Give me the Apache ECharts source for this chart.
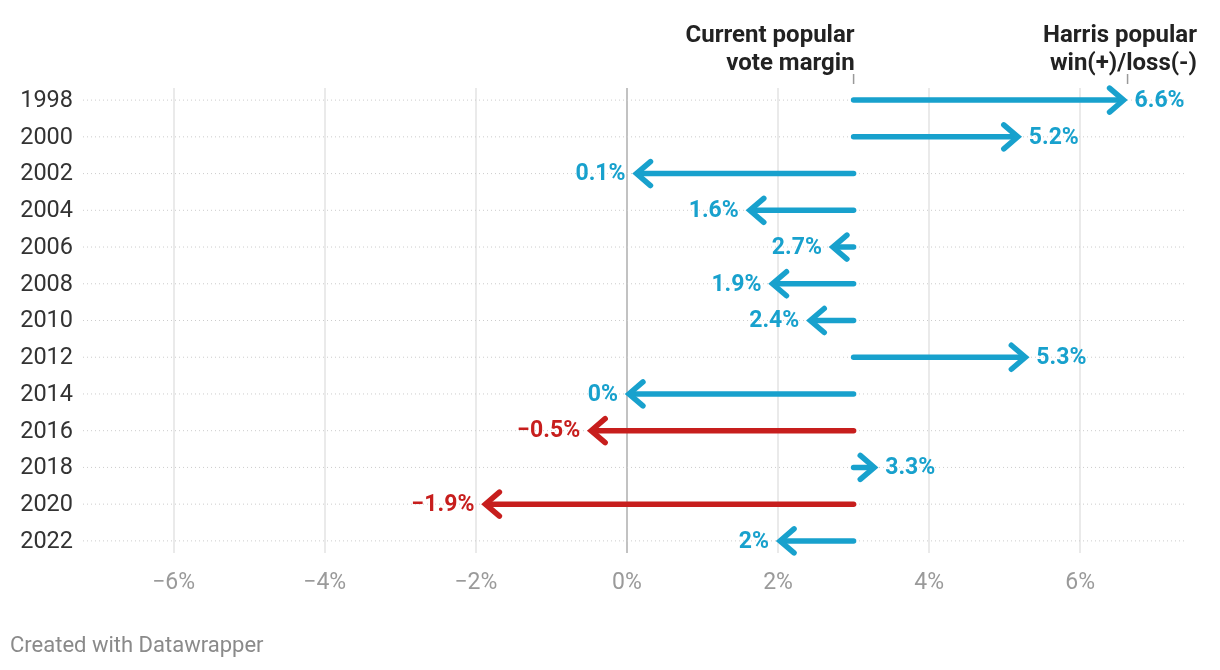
<!DOCTYPE html>
<html>
<head>
<meta charset="utf-8">
<script src="https://cdn.jsdelivr.net/npm/echarts@6/dist/echarts.min.js"></script>
<style>
  html, body { margin: 0; padding: 0; background: #fff; }
  #chart { width: 1220px; height: 670px; }
</style>
</head>
<body>
<div id="chart"></div>
<script>
// data
const years = ['1998', '2000', '2002', '2004', '2006', '2008', '2010', '2012', '2014', '2016', '2018', '2020', '2022']
const harrisMargins = [6.6, 5.2, 0.1, 1.6, 2.7, 1.9, 2.4, 5.3, 0, -0.5, 3.3, -1.9, 2]
const currentMargin = 3.0

const BLUE = '#18a1cd'
const RED = '#c71e1d'
const FONT = 'Roboto, "Noto Sans", sans-serif'

const fmtPct = v => (v < 0 ? '\u2212' : '') + Math.abs(v) + '%'

const chart = echarts.init(document.getElementById('chart'))

const renderArrow = (params, api) => {
  const i = api.value(0)
  const end = api.value(1)
  const start = api.coord([currentMargin, i])
  const tip = api.coord([end, i])
  const cs = params.coordSys
  const y = start[1]
  const color = end < 0 ? RED : BLUE
  const dir = tip[0] >= start[0] ? 1 : -1
  const tx = tip[0] - dir * 2

  return {
    type: 'group',
    children: [
      {
        type: 'line',
        shape: { x1: cs.x, y1: y, x2: cs.x + cs.width, y2: y },
        style: { stroke: '#cccccc', lineWidth: 1, lineDash: [1, 3] },
        z2: 0
      },
      {
        type: 'text',
        style: {
          text: years[i], x: cs.x - 10, y: y + 1,
          align: 'right', verticalAlign: 'middle',
          font: '23.5px ' + FONT, fill: '#333333'
        }
      },
      {
        type: 'line',
        shape: { x1: start[0], y1: y, x2: tx - dir * 2, y2: y },
        style: { stroke: color, lineWidth: 5.5, lineCap: 'round' },
        z2: 5
      },
      {
        type: 'polyline',
        shape: { points: [[tx - dir * 14, y - 12], [tx, y], [tx - dir * 14, y + 12]] },
        style: { stroke: color, lineWidth: 5.5, lineCap: 'round', lineJoin: 'miter', fill: null },
        z2: 5
      },
      {
        type: 'text',
        style: {
          text: fmtPct(end), x: tip[0] + dir * 9, y: y + 1,
          align: dir > 0 ? 'left' : 'right', verticalAlign: 'middle',
          font: 'bold 23px ' + FONT, fill: color
        },
        z2: 6
      }
    ]
  }
}

const option = {
  animation: false,
  textStyle: { fontFamily: FONT },
  grid: { left: 83, right: 34, top: 88, bottom: 117 },
  xAxis: {
    type: 'value',
    min: -7.2,
    max: 7.4,
    splitNumber: 7,
    minInterval: 2,
    maxInterval: 2,
    axisLine: { show: false },
    axisTick: { show: false },
    axisLabel: {
      formatter: fmtPct,
      color: '#9a9a9a',
      fontSize: 23,
      margin: 19,
      showMinLabel: false,
      showMaxLabel: false
    },
    splitLine: {
      showMinLine: false,
      showMaxLine: false,
      lineStyle: { color: '#e3e3e3', width: 1.5 }
    }
  },
  yAxis: {
    type: 'value',
    inverse: true,
    min: -0.33,
    max: 12.33,
    show: false
  },
  series: [
    {
      type: 'custom',
      renderItem: renderArrow,
      data: years.map((y, i) => [i, harrisMargins[i]]),
      encode: { x: 1, y: 0 },
      markLine: {
        silent: true,
        symbol: 'none',
        label: { show: false },
        lineStyle: { color: '#c2c2c2', width: 2, type: 'solid' },
        data: [{ xAxis: 0 }],
        z: 1
      }
    }
  ]
}

chart.setOption(option)

const xCur = chart.convertToPixel({ xAxisIndex: 0 }, currentMargin)
const xFirst = chart.convertToPixel({ xAxisIndex: 0 }, harrisMargins[0])

chart.setOption({
  graphic: [
    {
      type: 'text', x: xCur + 1, y: 22,
      style: {
        text: 'Current popular\nvote margin', align: 'right', verticalAlign: 'top',
        font: 'bold 24px ' + FONT, fill: '#222222', lineHeight: 28
      }
    },
    {
      type: 'line', shape: { x1: xCur, y1: 74, x2: xCur, y2: 84 },
      style: { stroke: '#999999', lineWidth: 1.5 }
    },
    {
      type: 'text', x: 1197, y: 22,
      style: {
        text: 'Harris popular\nwin(+)/loss(-)', align: 'right', verticalAlign: 'top',
        font: 'bold 24px ' + FONT, fill: '#222222', lineHeight: 28
      }
    },
    {
      type: 'line', shape: { x1: xFirst + 2, y1: 74, x2: xFirst + 2, y2: 84 },
      style: { stroke: '#999999', lineWidth: 1.5 }
    },
    {
      type: 'text', left: 10, top: 635,
      style: { text: 'Created with Datawrapper', font: '22px ' + FONT, fill: '#8a8a8a' }
    }
  ]
})
</script>
</body>
</html>
